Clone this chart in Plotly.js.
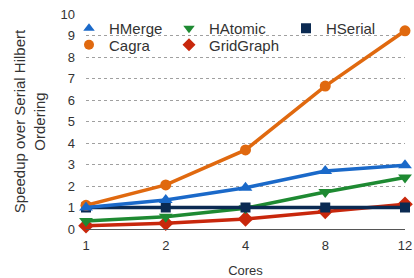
<!DOCTYPE html>
<html><head><meta charset="utf-8">
<script src="https://cdn.plot.ly/plotly-3.0.1.min.js"></script>
<style>html,body{margin:0;padding:0;background:#fff}#chart{width:414px;height:278px}
g.traces{opacity:1 !important}</style>
</head><body><div id="chart"></div>
<script>
const cores = ['1','2','4','8','12'];
const hmerge = [1.0, 1.35, 1.92, 2.7, 2.97];
const hatomic = [0.37, 0.57, 0.97, 1.72, 2.4];
const hserial = [1, 1, 1, 1, 1];
const cagra = [1.1, 2.05, 3.68, 6.65, 9.22];
const gridgraph = [0.15, 0.27, 0.47, 0.82, 1.15];
const yTicks = [0,1,2,3,4,5,6,7,8,9,10];

const C = {HMerge:'#1a69c9', HAtomic:'#1e8a32', HSerial:'#0b2a52', Cagra:'#e0690f', GridGraph:'#c8270c'};
const SYM = {HMerge:'triangle-up', HAtomic:'triangle-down', HSerial:'square', Cagra:'circle', GridGraph:'diamond'};
const SIZE = {HMerge:12, HAtomic:12, HSerial:10, Cagra:11, GridGraph:12};
const series = {HMerge:hmerge, HAtomic:hatomic, HSerial:hserial, Cagra:cagra, GridGraph:gridgraph};
const drawOrder = ['GridGraph','HAtomic','HSerial','Cagra','HMerge'];

const traces = drawOrder.map(n => ({
  type:'scatter', mode:'lines+markers', name:n, x:cores, y:series[n],
  line:{color:C[n], width:3.5}, marker:{symbol:SYM[n], size:SIZE[n], color:C[n]},
  showlegend:false, cliponaxis:false
}));
const legendMap = {HMerge:'legend', HAtomic:'legend2', HSerial:'legend3', Cagra:'legend4', GridGraph:'legend5'};
Object.keys(legendMap).forEach(n => traces.push({
  type:'scatter', mode:'markers', name:n, x:cores, y:series[n], visible:'legendonly',
  marker:{symbol:SYM[n], size:10, color:C[n]}, legend:legendMap[n], showlegend:true
}));

const font = {family:'"Liberation Sans", Arial, sans-serif', size:13, color:'#333'};
const lf = {family:'"Liberation Sans", Arial, sans-serif', size:15, color:'#333'};
function leg(xpx, ypx){ return {x:(xpx-86)/319, xref:'paper', xanchor:'left', y:(229-ypx)/215, yref:'paper', yanchor:'middle', bgcolor:'rgba(0,0,0,0)', borderwidth:0, font:lf, itemclick:false}; }
const y1 = 28.5, y2 = 45;

const layout = {
  width:414, height:278,
  margin:{l:86, r:9, t:14, b:49},
  paper_bgcolor:'#fff', plot_bgcolor:'#fff',
  font: font,
  xaxis:{type:'category', range:[0,4], showgrid:false, showline:true, linecolor:'#555', linewidth:1,
    ticks:'', ticklabelstandoff:4, tickfont:{...font, size:13}, zeroline:false, fixedrange:true,
    title:{text:'Cores', font:{...font, size:13}, standoff:14}},
  yaxis:{range:[0,10], tickvals:yTicks, showgrid:true, gridcolor:'#a0a0a0', griddash:'dot', gridwidth:1,
    zeroline:false, showline:false, ticks:'', ticklabelstandoff:10, tickfont:{...font, size:13},
    title:{text:'Speedup over Serial Hilbert<br>Ordering', font:{...font, size:15}, standoff:11}},
  legend: leg(69, y1), legend2: leg(169, y1), legend3: leg(286, y1),
  legend4: leg(69, y2), legend5: leg(169, y2),
  showlegend:true
};
Plotly.newPlot('chart', traces, layout, {displayModeBar:false, staticPlot:true});
</script></body></html>
